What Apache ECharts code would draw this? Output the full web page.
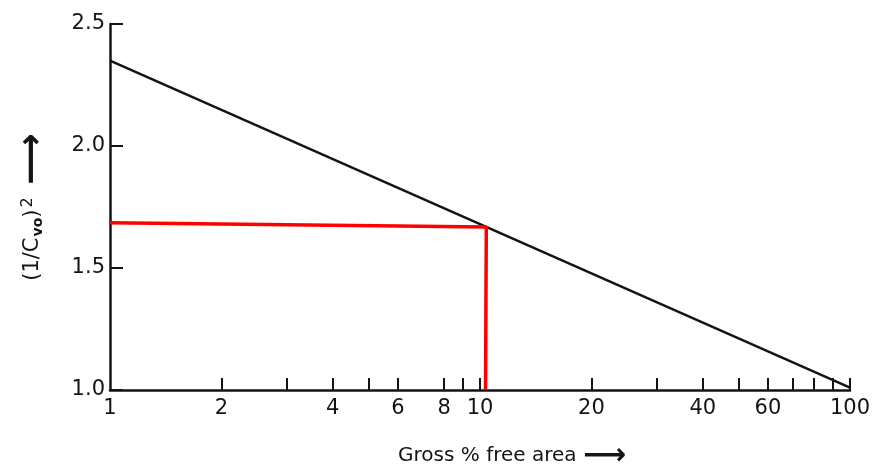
<!DOCTYPE html>
<html>
<head>
<meta charset="utf-8">
<script src="https://cdn.jsdelivr.net/npm/echarts@6/dist/echarts.min.js"></script>
<style>html,body{margin:0;padding:0;background:#fff}#c{width:882px;height:467px}</style>
</head>
<body>
<div id="c"></div>
<script>
// Data
const curveX = [1, 100];
const curveY = [2.35, 1.01];
const readX = [1, 10.4, 10.35];
const readY = [1.685, 1.668, 1.0];
const xLabelValues = [1, 2, 4, 6, 8, 10, 20, 40, 60, 100];
const xTickValues = [2, 3, 4, 5, 6, 8, 9, 10, 20, 30, 40, 50, 60, 70, 80, 90, 100];
const yTickValues = [1.0, 1.5, 2.0, 2.5];

const chart = echarts.init(document.getElementById('c'));
const font = 'DejaVu Sans';
const ink = '#141414';
chart.setOption({
  animation: false,
  backgroundColor: '#fff',
  grid: { left: 110, right: 32, top: 24, bottom: 77, containLabel: false, outerBoundsMode: 'none' },
  xAxis: {
    type: 'log', logBase: 10, min: 1, max: 100,
    name: '{n|Gross % free area }{a|\u27F6}',
    nameLocation: 'middle', nameGap: 51,
    nameTextStyle: {
      fontFamily: font, color: ink, padding: [0, 0, 0, 64],
      rich: {
        n: { fontFamily: font, fontSize: 20, color: ink },
        a: { fontFamily: font, fontSize: 30, color: ink, fontWeight: 'bold' }
      }
    },
    axisLine: { show: true, lineStyle: { color: ink, width: 2.5 } },
    axisTick: { show: true, inside: true, length: 12, customValues: xTickValues, lineStyle: { color: ink, width: 2 } },
    axisLabel: { customValues: xLabelValues, fontFamily: font, fontSize: 21, color: ink, margin: 8 },
    splitLine: { show: false }, minorTick: { show: false }
  },
  yAxis: {
    type: 'value', min: 1.0, max: 2.5, interval: 0.5,
    name: '{n|(1/C}{sub|vo}{n|)}{sup|2}{a| \u27F6}',
    nameLocation: 'middle', nameGap: 59, nameRotate: 90,
    nameTextStyle: {
      fontFamily: font, color: ink,
      rich: {
        n: { fontFamily: font, fontSize: 21, color: ink },
        sub: { fontFamily: font, fontSize: 14, color: ink, fontWeight: 'bold', padding: [10, 0, 0, 1] },
        sup: { fontFamily: font, fontSize: 16, color: ink, padding: [0, 0, 10, 2] },
        a: { fontFamily: font, fontSize: 36, color: ink, fontWeight: 'bold' }
      }
    },
    axisLine: { show: true, lineStyle: { color: ink, width: 2.5 } },
    axisTick: { show: true, inside: true, length: 13, customValues: yTickValues, lineStyle: { color: ink, width: 2 } },
    axisLabel: { fontFamily: font, fontSize: 21, color: ink, margin: 5, formatter: v => v.toFixed(1) },
    splitLine: { show: false }
  },
  series: [
    {
      type: 'line', data: curveX.map((x, i) => [x, curveY[i]]),
      symbol: 'none', lineStyle: { color: ink, width: 2.5 }, z: 3
    },
    {
      type: 'line', data: readX.map((x, i) => [x, readY[i]]),
      symbol: 'none', lineStyle: { color: '#ff0000', width: 3.5 }, z: 4
    }
  ]
});
</script>
</body>
</html>
